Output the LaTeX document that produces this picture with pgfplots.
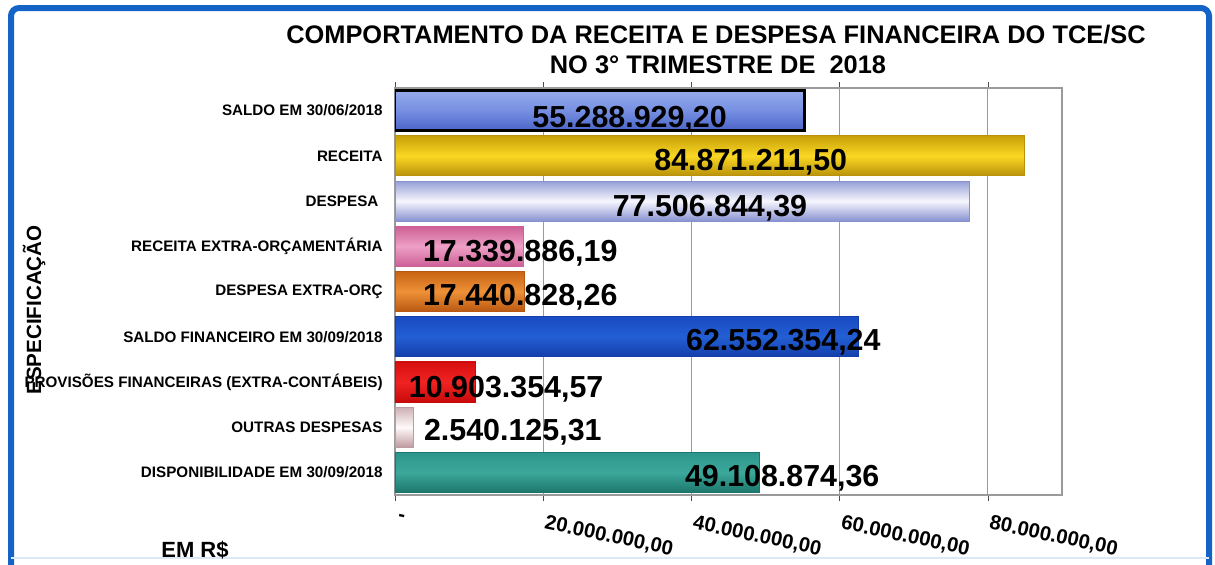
\documentclass[border=0pt]{standalone}
\usepackage{pgfplots}
\pgfplotsset{compat=1.18}
\usepackage{fontspec}
\setmainfont{Liberation Sans}
\definecolor{frameblue}{HTML}{1464C8}
\definecolor{gridgray}{HTML}{9A9A9A}
% bar shadings (bottom, middle, top)
\newcommand{\barshade}[4]{\pgfdeclareverticalshading{#1}{100bp}{color(0bp)=(#2); color(25bp)=(#2); color(50bp)=(#3); color(75bp)=(#4); color(100bp)=(#4)}}
\definecolor{aT}{RGB}{150,170,235}\definecolor{aM}{RGB}{118,143,226}\definecolor{aB}{RGB}{75,100,200}
\definecolor{bT}{RGB}{200,160,10}\definecolor{bM}{RGB}{250,215,35}\definecolor{bB}{RGB}{185,145,10}
\definecolor{cT}{RGB}{150,160,215}\definecolor{cM}{RGB}{246,246,253}\definecolor{cB}{RGB}{135,145,208}
\definecolor{dT}{RGB}{205,95,150}\definecolor{dM}{RGB}{238,160,198}\definecolor{dB}{RGB}{205,95,150}
\definecolor{eT}{RGB}{200,100,20}\definecolor{eM}{RGB}{238,145,55}\definecolor{eB}{RGB}{185,88,18}
\definecolor{fT}{RGB}{25,75,195}\definecolor{fM}{RGB}{35,95,212}\definecolor{fB}{RGB}{20,62,172}
\definecolor{gT}{RGB}{215,15,15}\definecolor{gM}{RGB}{240,35,35}\definecolor{gB}{RGB}{200,10,10}
\definecolor{hT}{RGB}{205,175,180}\definecolor{hM}{RGB}{255,250,250}\definecolor{hB}{RGB}{190,155,160}
\definecolor{iT}{RGB}{45,150,140}\definecolor{iM}{RGB}{60,168,155}\definecolor{iB}{RGB}{28,118,108}
\barshade{shA}{aB}{aM}{aT}
\barshade{shB}{bB}{bM}{bT}
\barshade{shC}{cB}{cM}{cT}
\barshade{shD}{dB}{dM}{dT}
\barshade{shE}{eB}{eM}{eT}
\barshade{shF}{fB}{fM}{fT}
\barshade{shG}{gB}{gM}{gT}
\barshade{shH}{hB}{hM}{hT}
\barshade{shI}{iB}{iM}{iT}
\newcommand{\val}[1]{{\bfseries\fontsize{15.2}{16}\selectfont #1}}
\begin{document}
\begin{tikzpicture}
\path[use as bounding box] (0,0) rectangle (607.5pt,-282pt);
\draw[line width=3pt, frameblue, rounded corners=4pt] (5.5pt,-290pt) -- (5.5pt,-4pt) -- (604.5pt,-4pt) -- (604.5pt,-290pt);
\draw[line width=0.6pt, frameblue!15] (5.5pt,-279pt) -- (604.5pt,-279pt);
\node[font=\bfseries\fontsize{12.7}{14}\selectfont] at (358pt,-17.5pt) {COMPORTAMENTO DA RECEITA E DESPESA FINANCEIRA DO TCE/SC};
\node[font=\bfseries\fontsize{12.7}{14}\selectfont] at (359pt,-32.5pt) {NO 3° TRIMESTRE DE\ \ 2018};
\node[font=\bfseries\fontsize{10.3}{12}\selectfont, rotate=90] at (17pt,-155pt) {ESPECIFICAÇÃO};
\node[font=\bfseries\fontsize{11}{12}\selectfont] at (97.5pt,-275pt) {EM R\$};
\begin{axis}[
  at={(197.5pt,-247.5pt)}, anchor=south west,
  scale only axis, width=333.5pt, height=203.5pt,
  xmin=0, xmax=90000000, ymin=-0.5, ymax=8.5, y dir=reverse,
  scaled x ticks=false,
  xtick={0,20000000,40000000,60000000,80000000},
  xticklabels={-,{20.000.000,00},{40.000.000,00},{60.000.000,00},{80.000.000,00}},
  xticklabel style={font=\bfseries\fontsize{10.2}{11}\selectfont, rotate=-12, anchor=north west, inner sep=0pt, xshift=3pt, yshift=-6pt},
  ytick={0,1,2,3,4,5,6,7,8},
  yticklabels={SALDO EM 30/06/2018, RECEITA, {DESPESA\ \ }, RECEITA EXTRA-ORÇAMENTÁRIA, DESPESA EXTRA-ORÇ, SALDO FINANCEIRO EM 30/09/2018, PROVISÕES FINANCEIRAS (EXTRA-CONTÁBEIS), OUTRAS DESPESAS, DISPONIBILIDADE EM 30/09/2018},
  yticklabel style={font=\bfseries\fontsize{7.6}{8}\selectfont, inner sep=0pt, anchor=east, xshift=-3pt},
  ytick style={draw=none},
  minor ytick={-0.5,0.5,1.5,2.5,3.5,4.5,5.5,6.5,7.5,8.5},
  minor tick length=3pt, major tick length=3pt,
  tick align=outside,
  xtick style={black!70},
  minor tick style={black!70},
  xmajorgrids, grid style={gridgray, line width=0.5pt},
  axis line style={gridgray, line width=0.6pt},
  every axis plot/.append style={xbar, bar width=20pt, bar shift=0pt, line width=0.4pt},
]
\addplot[draw=black, line width=1.4pt, shade, shading=shA] coordinates {(55288929.20,0)};
\addplot[draw=bB, shade, shading=shB] coordinates {(84871211.50,1)};
\addplot[draw=cB, shade, shading=shC] coordinates {(77506844.39,2)};
\addplot[draw=dB, shade, shading=shD] coordinates {(17339886.19,3)};
\addplot[draw=eB, shade, shading=shE] coordinates {(17440828.26,4)};
\addplot[draw=fB, shade, shading=shF] coordinates {(62552354.24,5)};
\addplot[draw=gB, shade, shading=shG] coordinates {(10903354.57,6)};
\addplot[draw=hB, shade, shading=shH] coordinates {(2540125.31,7)};
\addplot[draw=iB, shade, shading=shI] coordinates {(49108874.36,8)};
\begin{scope}[every node/.style={inner sep=0pt, text depth=0pt, anchor=center}]
\node at (axis cs:31650000,0.13) {\val{55.288.929,20}};
\node at (axis cs:48000000,1.09) {\val{84.871.211,50}};
\node at (axis cs:42500000,2.11) {\val{77.506.844,39}};
\node at (axis cs:16900000,3.10) {\val{17.339.886,19}};
\node at (axis cs:16900000,4.08) {\val{17.440.828,26}};
\node at (axis cs:52400000,5.07) {\val{62.552.354,24}};
\node at (axis cs:15000000,6.11) {\val{10.903.354,57}};
\node at (axis cs:15900000,7.06) {\val{2.540.125,31}};
\node at (axis cs:52250000,8.08) {\val{49.108.874,36}};
\end{scope}
\end{axis}
\end{tikzpicture}
\end{document}
